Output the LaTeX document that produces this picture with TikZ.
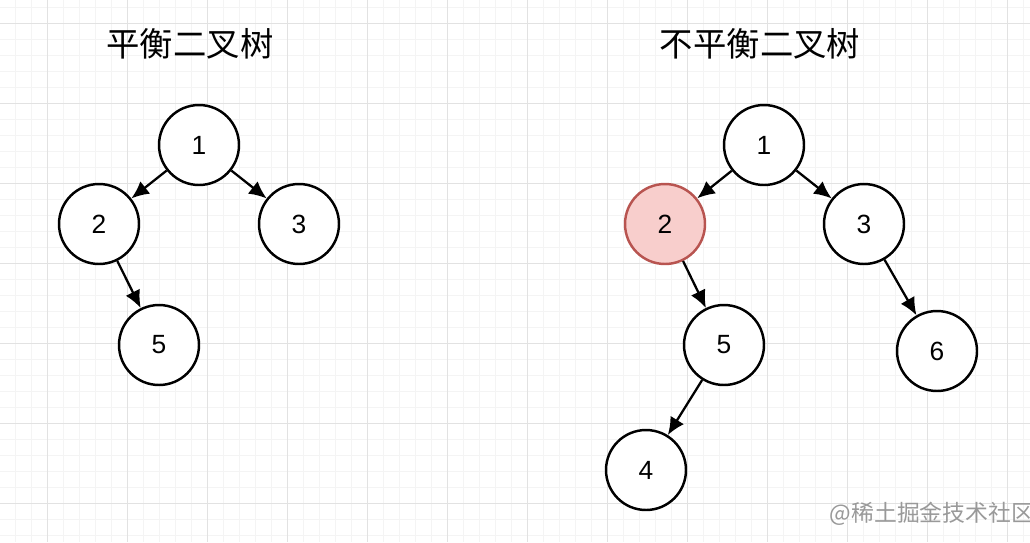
\documentclass[tikz,border=0pt]{standalone}
\usepackage{fontspec}
\setmainfont{Liberation Sans}
\newfontfamily\cjk{Noto Sans CJK SC}
\usetikzlibrary{arrows.meta}
\definecolor{minorg}{RGB}{244,244,244}
\definecolor{majorg}{RGB}{226,226,226}
\definecolor{pinkfill}{RGB}{248,206,204}
\definecolor{pinkdraw}{RGB}{184,84,80}
\tikzset{
  tn/.style={circle,draw=black,line width=1.4pt,minimum size=1.6cm,inner sep=0pt,font=\fontsize{15}{15}\selectfont,fill=white},
  hl/.style={fill=pinkfill,draw=pinkdraw},
  arr/.style={line width=1.3pt,-{Latex[length=10pt,width=9pt]}},
  ttl/.style={font=\cjk\fontsize{19}{19}\selectfont}
}
\begin{document}
\begin{tikzpicture}[x=0.02cm,y=-0.02cm]
\useasboundingbox (0,0) rectangle (1030,542);
\fill[white] (0,0) rectangle (1030,542);
\foreach \x in {15,31,...,1030} {\draw[minorg,line width=0.4pt] (\x,0) -- (\x,542);}
\foreach \y in {7,23,...,542} {\draw[minorg,line width=0.4pt] (0,\y) -- (1030,\y);}
\foreach \x in {47,127,...,1030} {\draw[majorg,line width=0.5pt] (\x,0) -- (\x,542);}
\foreach \y in {23,103,...,542} {\draw[majorg,line width=0.5pt] (0,\y) -- (1030,\y);}
\node[ttl] (t1) at (190,44) {平衡二叉树};
\node[ttl] (t2) at (760,44) {不平衡二叉树};
\node[tn] (a1) at (199,145) {1};
\node[tn] (a2) at (99,224) {2};
\node[tn] (a3) at (299,224) {3};
\node[tn] (a5) at (159,345) {5};
\draw[arr] (a1) -- (a2);
\draw[arr] (a1) -- (a3);
\draw[arr] (a2) -- (a5);
\node[tn,hl] (b2) at (665,224) {2};
\node[tn] (b1) at (764,145) {1};
\node[tn] (b3) at (864,224) {3};
\node[tn] (b5) at (724,345) {5};
\node[tn] (b6) at (937,351) {6};
\node[tn] (b4) at (646,470) {4};
\draw[arr] (b1) -- (b2);
\draw[arr] (b1) -- (b3);
\draw[arr] (b2) -- (b5);
\draw[arr] (b3) -- (b6);
\draw[arr] (b5) -- (b4);
\node[font=\cjk\fontsize{13}{13}\selectfont,text=black!40] (wm) at (932,514) {@稀土掘金技术社区};
\end{tikzpicture}
\end{document}
